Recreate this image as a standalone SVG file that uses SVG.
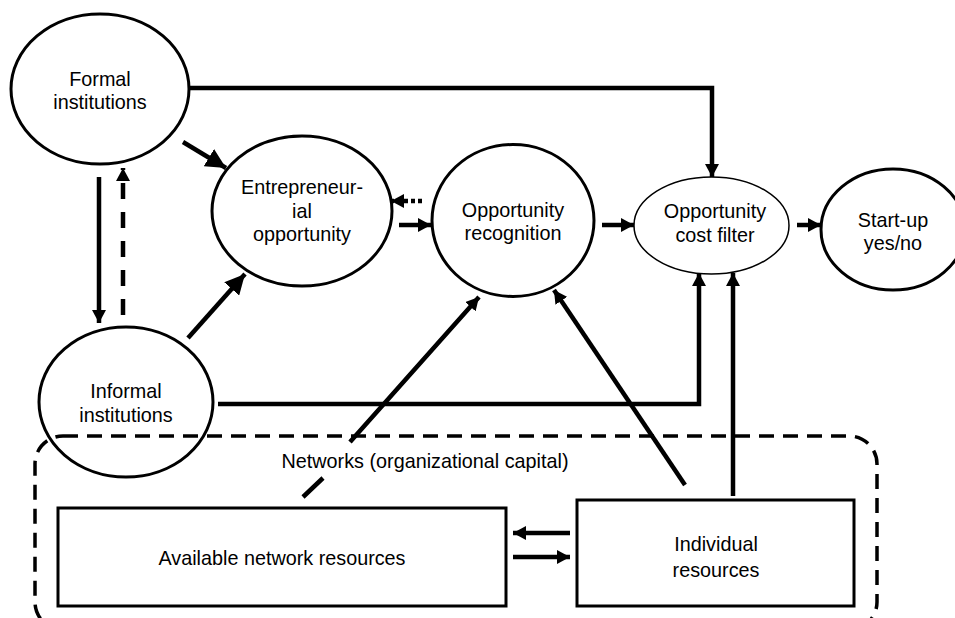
<svg xmlns="http://www.w3.org/2000/svg" width="955" height="618" viewBox="0 0 955 618">
<style>
.node{fill:#fff;stroke:#000;stroke-width:3}
.thin{stroke-width:1.5}
.box{fill:#fff;stroke:#000;stroke-width:3}
.t{font-family:"Liberation Sans",Arial,sans-serif;font-size:19.8px;fill:#000;text-anchor:middle}
.c{fill:none;stroke:#000;stroke-width:4.5}
</style>
<defs>
<marker id="ah" markerUnits="userSpaceOnUse" markerWidth="13" markerHeight="14" refX="13" refY="7" orient="auto"><path d="M0,0 L13,7 L0,14 z" fill="#000"/></marker>
<marker id="ahB" markerUnits="userSpaceOnUse" markerWidth="20" markerHeight="20" refX="20" refY="10" orient="auto"><path d="M0,0 L20,10 L0,20 z" fill="#000"/></marker>
</defs>
<rect width="955" height="618" fill="#fff"/>
<g id="formal"><ellipse class="node" cx="100" cy="89" rx="89" ry="75"/><text class="t" x="100" y="86">Formal</text><text class="t" x="100" y="109">institutions</text></g>
<g id="informal"><ellipse class="node" cx="126" cy="402" rx="87" ry="75"/><text class="t" x="126" y="398">Informal</text><text class="t" x="126" y="422">institutions</text></g>
<g id="network"><rect x="35" y="436" width="842" height="194" rx="28" fill="none" stroke="#000" stroke-width="3.5" stroke-dasharray="15 9"/><text class="t" x="425" y="468">Networks (organizational capital)</text></g>
<g id="entrepreneurial"><ellipse class="node" cx="302" cy="211" rx="90" ry="75"/><text class="t" x="302" y="194">Entrepreneur-</text><text class="t" x="302" y="218">ial</text><text class="t" x="302" y="241">opportunity</text></g>
<g id="recognition"><ellipse class="node" cx="513" cy="220.5" rx="81" ry="76"/><text class="t" x="513" y="217">Opportunity</text><text class="t" x="513" y="240">recognition</text></g>
<g id="costfilter"><ellipse class="node thin" cx="711.5" cy="225.5" rx="77.5" ry="48.5"/><text class="t" x="715" y="218">Opportunity</text><text class="t" x="715" y="242">cost filter</text></g>
<g id="startup"><ellipse class="node" cx="893" cy="229.5" rx="72" ry="60.5"/><text class="t" x="893" y="227">Start-up</text><text class="t" x="893" y="250">yes/no</text></g>
<g id="available"><rect class="box" x="58" y="508" width="448" height="98"/><text class="t" x="282" y="565">Available network resources</text></g>
<g id="individual"><rect class="box" x="577" y="500" width="277" height="106"/><text class="t" x="716" y="551">Individual</text><text class="t" x="716" y="577">resources</text></g>
<g id="connectors">
<path class="c" d="M189,88 H712 V177" marker-end="url(#ah)"/>
<path class="c" d="M183,142 L226,168" marker-end="url(#ahB)"/>
<path class="c" d="M99,177 V323" stroke-width="4" marker-end="url(#ah)"/>
<path class="c" d="M123,315 V168" stroke-dasharray="16 13" marker-end="url(#ah)"/>
<path class="c" d="M188,338 L245,274" marker-end="url(#ahB)"/>
<path class="c" d="M422,201 H391" stroke-dasharray="4 3" marker-end="url(#ah)"/>
<path class="c" d="M399,225 H431" marker-end="url(#ah)"/>
<path class="c" d="M602,225 H634" marker-end="url(#ah)"/>
<path class="c" d="M797,225 H821" marker-end="url(#ah)"/>
<path class="c" d="M218,404 H699 V273" marker-end="url(#ah)"/>
<path class="c" d="M733,496 V273" marker-end="url(#ah)"/>
<path class="c" d="M685,485 L554,290" marker-end="url(#ah)"/>
<path class="c" d="M303,497 L323,478 M350,442 L479,297" marker-end="url(#ah)"/>
<path class="c" d="M570,533 H513" stroke-width="4" marker-end="url(#ah)"/>
<path class="c" d="M513,557 H570" stroke-width="4" marker-end="url(#ah)"/>
</g>
</svg>
